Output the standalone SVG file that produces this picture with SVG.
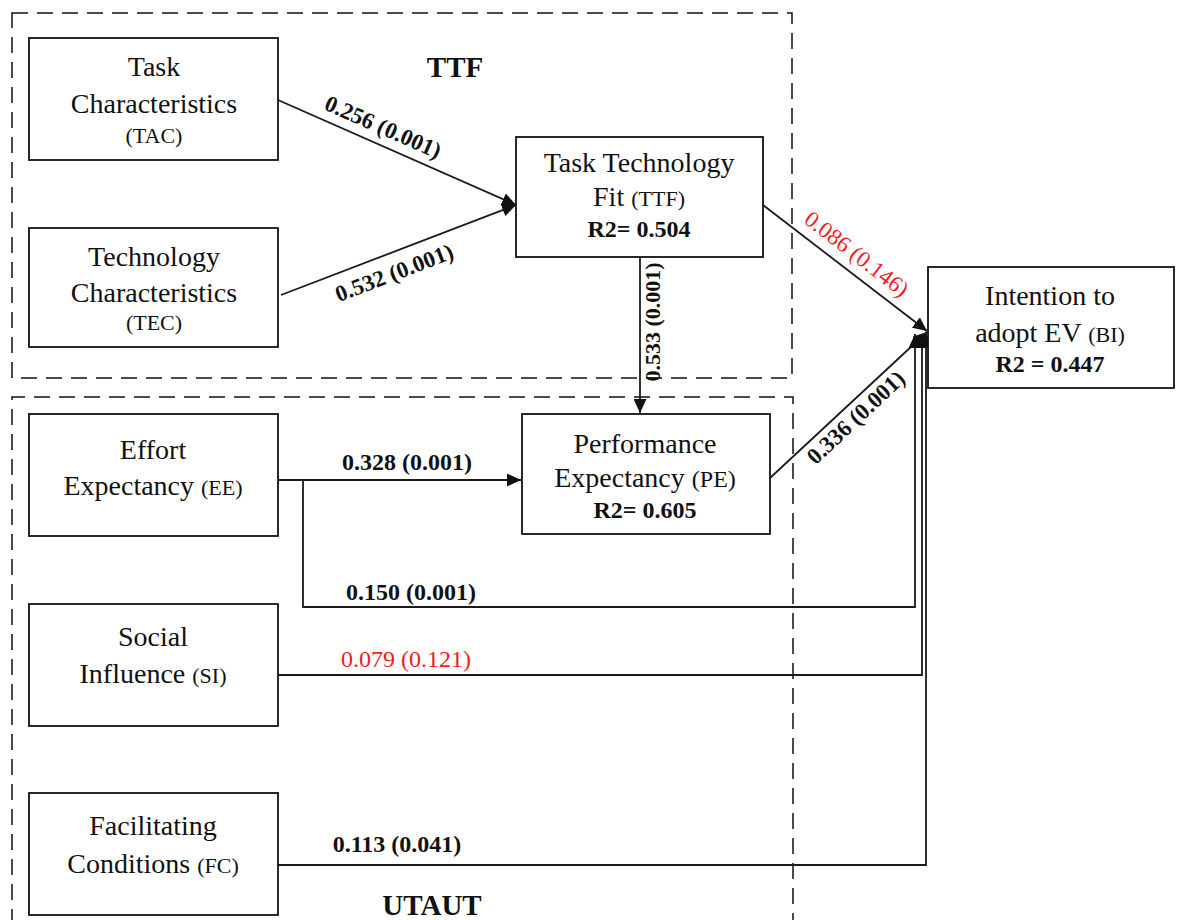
<svg xmlns="http://www.w3.org/2000/svg" width="1178" height="920" viewBox="0 0 1178 920">
<style>
  text { font-family: "Liberation Serif", "Times New Roman", serif; fill: #111; }
  .n { font-size: 28px; text-anchor: middle; }
  .p { font-size: 22px; }
  .r2 { font-size: 24px; font-weight: bold; text-anchor: middle; }
  .lb { font-size: 24px; font-weight: bold; text-anchor: middle; }
  .lr { font-size: 24px; text-anchor: middle; fill: #ee1c1c; }
  .grp { font-size: 29px; font-weight: bold; text-anchor: middle; }
  .box { fill: #fff; stroke: #111; stroke-width: 1.8; }
  .dash { fill: none; stroke: #111; stroke-width: 1.5; stroke-dasharray: 16 9; }
  .c { fill: none; stroke: #1a1a1a; stroke-width: 1.8; }
</style>
<defs>
  <marker id="arr" markerUnits="userSpaceOnUse" markerWidth="15" markerHeight="13" refX="14" refY="6.5" orient="auto">
    <path d="M0,0 L14,6.5 L0,13 z" fill="#111"/>
  </marker>
</defs>
<rect width="1178" height="920" fill="#fff"/>

<g id="groups">
  <rect class="dash" x="12" y="13" width="780" height="365"/>
  <path class="dash" d="M12,925 V397 H793 V925"/>
  <text class="grp" x="455" y="77">TTF</text>
  <text class="grp" x="432" y="915">UTAUT</text>
</g>

<g id="connectors">
  <path class="c" d="M278,100 L516,205" marker-end="url(#arr)"/>
  <path class="c" d="M281,295 L516,205" marker-end="url(#arr)"/>
  <path class="c" d="M640,257 V413" marker-end="url(#arr)"/>
  <path class="c" d="M763,205 L927,331" marker-end="url(#arr)"/>
  <path class="c" d="M770,478 L927,332" marker-end="url(#arr)"/>
  <path class="c" d="M278,480 H521" marker-end="url(#arr)"/>
  <path class="c" d="M303,480 V607 H915 V334" marker-end="url(#arr)"/>
  <path class="c" d="M278,675 H922 V334" marker-end="url(#arr)"/>
  <path class="c" d="M278,865 H926 V334" marker-end="url(#arr)"/>

  <text class="lb" transform="translate(380,134) rotate(23.7)" style="font-size:23px">0.256 (0.001)</text>
  <text class="lb" transform="translate(397,280) rotate(-20.9)" style="font-size:23px">0.532 (0.001)</text>
  <text class="lb" transform="translate(660,322) rotate(-90)" style="font-size:22px">0.533 (0.001)</text>
  <text class="lr" transform="translate(852,260) rotate(37.6)" style="font-size:23px">0.086 (0.146)</text>
  <text class="lb" transform="translate(861,423) rotate(-43.1)" style="font-size:23px">0.336 (0.001)</text>
  <text class="lb" x="407" y="470">0.328 (0.001)</text>
  <text class="lb" x="411" y="600">0.150 (0.001)</text>
  <text class="lr" x="406" y="667">0.079 (0.121)</text>
  <text class="lb" x="397" y="852">0.113 (0.041)</text>
</g>

<g id="TAC">
  <rect class="box" x="29" y="38" width="249" height="122"/>
  <text class="n" x="154" y="76">Task</text>
  <text class="n" x="154" y="113">Characteristics</text>
  <text class="n p" x="154" y="143">(TAC)</text>
</g>
<g id="TEC">
  <rect class="box" x="29" y="228" width="249" height="119"/>
  <text class="n" x="154" y="266">Technology</text>
  <text class="n" x="154" y="302">Characteristics</text>
  <text class="n p" x="154" y="330">(TEC)</text>
</g>
<g id="TTF">
  <rect class="box" x="516" y="137" width="247" height="120"/>
  <text class="n" x="639" y="172">Task Technology</text>
  <text class="n" x="639" y="206">Fit <tspan class="p">(TTF)</tspan></text>
  <text class="r2" x="639" y="237">R2= 0.504</text>
</g>
<g id="BI">
  <rect class="box" x="928" y="267" width="246" height="121"/>
  <text class="n" x="1050" y="305">Intention to</text>
  <text class="n" x="1050" y="342">adopt EV <tspan class="p">(BI)</tspan></text>
  <text class="r2" x="1050" y="372">R2 = 0.447</text>
</g>
<g id="EE">
  <rect class="box" x="29" y="414" width="249" height="122"/>
  <text class="n" x="153" y="459">Effort</text>
  <text class="n" x="153" y="495">Expectancy <tspan class="p">(EE)</tspan></text>
</g>
<g id="PE">
  <rect class="box" x="522" y="414" width="248" height="120"/>
  <text class="n" x="645" y="453">Performance</text>
  <text class="n" x="645" y="487">Expectancy <tspan style="font-size:24px">(PE)</tspan></text>
  <text class="r2" x="645" y="518">R2= 0.605</text>
</g>
<g id="SI">
  <rect class="box" x="29" y="604" width="249" height="122"/>
  <text class="n" x="153" y="646">Social</text>
  <text class="n" x="153" y="683">Influence <tspan class="p">(SI)</tspan></text>
</g>
<g id="FC">
  <rect class="box" x="29" y="793" width="249" height="122"/>
  <text class="n" x="153" y="835">Facilitating</text>
  <text class="n" x="153" y="873">Conditions <tspan class="p">(FC)</tspan></text>
</g>
</svg>
